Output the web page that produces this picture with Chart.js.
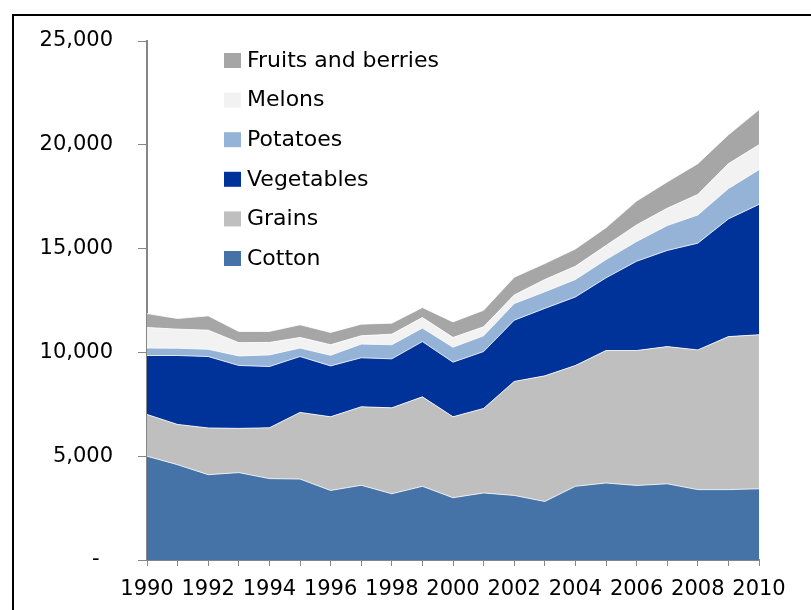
<!DOCTYPE html>
<html>
<head>
<meta charset="utf-8">
<script src="https://cdn.jsdelivr.net/npm/chart.js@4/dist/chart.umd.min.js"></script>
<style>
  body { margin: 0; background: #fff; }
  #wrap { position: relative; width: 811px; height: 610px; overflow: hidden; }
  #frame { position: absolute; left: 12px; top: 14px; right: -5px; bottom: -5px;
           border-top: 2px solid #000; border-left: 2px solid #000; pointer-events: none; }
  canvas { position: absolute; left: 0; top: 0; }
</style>
</head>
<body>
<div id="wrap">
  <canvas id="myChart" width="811" height="610"></canvas>
  <div id="frame"></div>
</div>
<script>
// years and series
const years = ['1990','1991','1992','1993','1994','1995','1996','1997','1998','1999','2000',
               '2001','2002','2003','2004','2005','2006','2007','2008','2009','2010'];
const cotton     = [5000, 4590, 4110, 4210, 3920, 3900, 3350, 3600, 3190, 3550, 3000,
                    3230, 3110, 2820, 3550, 3710, 3590, 3670, 3390, 3390, 3430];
const grains     = [2010, 1940, 2250, 2130, 2450, 3210, 3550, 3780, 4140, 4310, 3900,
                    4070, 5490, 6050, 5820, 6380, 6500, 6610, 6730, 7370, 7420];
const vegetables = [2840, 3320, 3440, 3030, 2950, 2690, 2450, 2360, 2360, 2660, 2630,
                    2740, 2950, 3250, 3300, 3500, 4300, 4630, 5140, 5670, 6280];
const potatoes   = [360, 350, 350, 460, 560, 410, 510, 660, 680, 650, 720,
                    760, 800, 800, 840, 880, 950, 1200, 1360, 1460, 1670];
const melons     = [990, 920, 920, 640, 600, 510, 510, 400, 510, 510, 470,
                    430, 410, 590, 640, 680, 800, 830, 990, 1200, 1200];
const fruits     = [670, 510, 690, 540, 530, 610, 590, 560, 530, 480, 750,
                    800, 860, 770, 830, 860, 1150, 1270, 1480, 1390, 1690];
const yTicks = [0, 5000, 10000, 15000, 20000, 25000];

const seriesNames  = ['Cotton', 'Grains', 'Vegetables', 'Potatoes', 'Melons', 'Fruits and berries'];
const seriesData   = [cotton, grains, vegetables, potatoes, melons, fruits];
const seriesColors = ['#4673A7', '#BFBFBF', '#00339A', '#95B3D7', '#F2F2F2', '#A6A6A6'];

const font = 'DejaVu Sans';

// legend drawn inside the plot area, top series first
const innerLegend = {
  id: 'innerLegend',
  afterDatasetsDraw(chart) {
    const ctx = chart.ctx;
    const area = chart.chartArea;
    const sets = chart.data.datasets.slice().reverse();
    ctx.save();
    ctx.font = '22px "' + font + '"';
    ctx.textBaseline = 'middle';
    ctx.textAlign = 'left';
    sets.forEach(function(ds, i) {
      const cy = area.top + 19 + i * 39.6;
      ctx.fillStyle = ds.backgroundColor;
      ctx.fillRect(area.left + 77, cy - 7, 17, 15);
      ctx.fillStyle = '#000';
      ctx.fillText(ds.label, area.left + 100, cy + 1);
    });
    ctx.restore();
  }
};

const ctx = document.getElementById('myChart').getContext('2d');
new Chart(ctx, {
  type: 'line',
  data: {
    labels: years,
    datasets: seriesNames.map(function(name, i) {
      return {
        label: name,
        data: seriesData[i],
        backgroundColor: seriesColors[i],
        borderColor: 'rgba(255,255,255,0.8)',
        borderWidth: 1,
        pointRadius: 0,
        tension: 0,
        fill: i === 0 ? 'origin' : '-1'
      };
    })
  },
  options: {
    responsive: false,
    animation: false,
    devicePixelRatio: 1,
    layout: { padding: { top: 41, right: 52, left: 0, bottom: 0 } },
    plugins: {
      legend: { display: false },
      tooltip: { enabled: false }
    },
    scales: {
      x: {
        offset: false,
        grid: { display: true, drawOnChartArea: false, tickLength: 6, color: '#868686' },
        border: { color: '#868686', width: 2 },
        ticks: {
          autoSkip: false,
          maxRotation: 0,
          padding: 11,
          color: '#000',
          font: { family: font, size: 21 },
          callback: function(v, i) { return i % 2 === 0 ? years[i] : ''; }
        },
        afterFit: function(scale) { scale.height = 50; }
      },
      y: {
        stacked: true,
        min: yTicks[0],
        max: yTicks[yTicks.length - 1],
        grid: { display: true, drawOnChartArea: false, tickLength: 9, color: '#868686' },
        border: { color: '#868686', width: 2 },
        ticks: {
          stepSize: 5000,
          padding: 25,
          color: '#000',
          font: { family: font, size: 21 },
          callback: function(v) { return v === 0 ? '-  ' : v.toLocaleString('en-US'); }
        },
        afterFit: function(scale) { scale.width = 147; }
      }
    }
  },
  plugins: [innerLegend]
});
</script>
</body>
</html>
